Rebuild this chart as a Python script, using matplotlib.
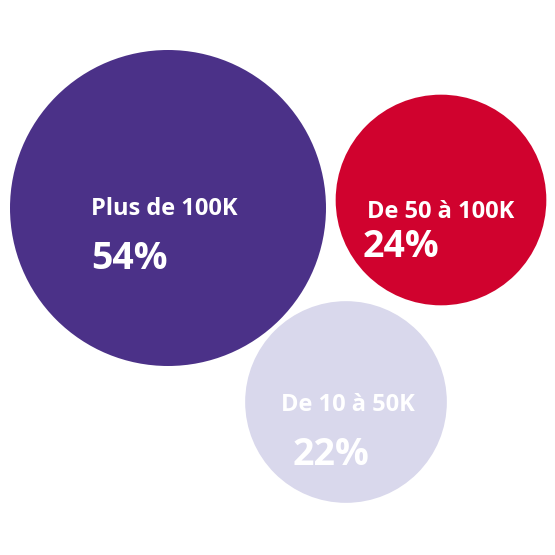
import numpy as np
import matplotlib
matplotlib.use('Agg')
import matplotlib.pyplot as plt
from matplotlib.patches import Circle

# data
labels = ['Plus de 100K', 'De 50 à 100K', 'De 10 à 50K']
shares = [54, 24, 22]
colors = ['#4B3188', '#D0022E', '#D9D8EC']

# layout (pixels, origin top-left, text positions are baselines)
centers = [(168, 208), (441, 200), (346, 402)]
label_pos = [(91, 215), (367, 218), (281, 411)]
pct_pos = [(91, 269), (363, 257), (293, 465)]
scale = 158 / np.sqrt(54)


def main():
    fig = plt.figure(figsize=(5.55, 5.55), dpi=100)
    ax = fig.add_axes([0, 0, 1, 1])
    ax.set_xlim(0, 555)
    ax.set_ylim(555, 0)
    ax.set_aspect('equal')
    ax.axis('off')

    for i in range(len(shares)):
        r = scale * np.sqrt(shares[i])
        ax.add_patch(Circle(centers[i], r, color=colors[i], lw=0))
        ax.text(label_pos[i][0], label_pos[i][1], labels[i], color='white',
                fontsize=17, fontweight='bold', family='Open Sans',
                ha='left', va='baseline')
        ax.text(pct_pos[i][0], pct_pos[i][1], str(shares[i]) + '%', color='white',
                fontsize=27, fontweight='bold', family='Open Sans',
                ha='left', va='baseline')

    fig.savefig('out.png', dpi=100)


if __name__ == '__main__':
    main()
